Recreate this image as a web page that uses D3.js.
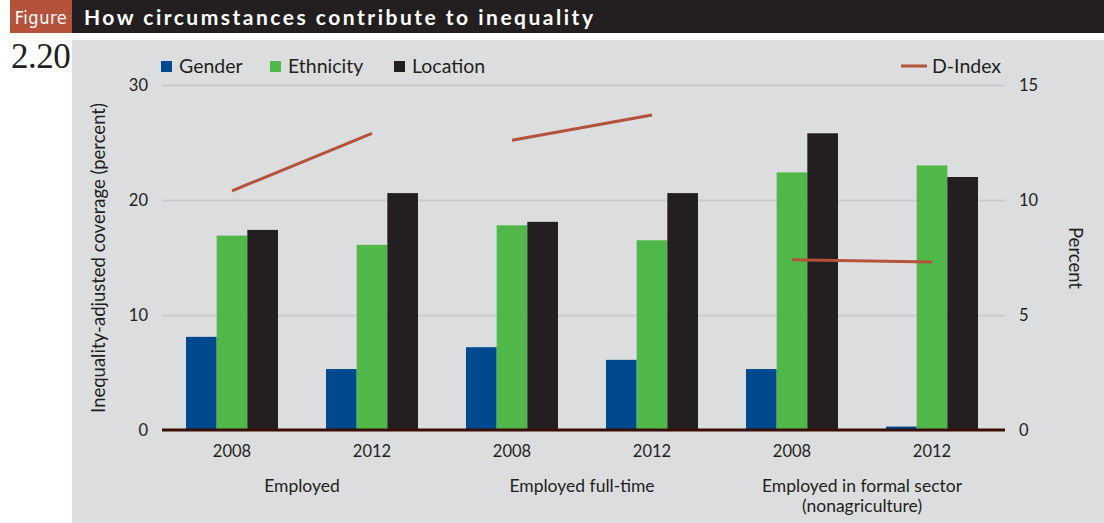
<!DOCTYPE html>
<html>
<head>
<meta charset="utf-8">
<script src="https://cdn.jsdelivr.net/npm/d3@7/dist/d3.min.js"></script>
<style>
  html, body { margin: 0; padding: 0; background: #ffffff; }
  svg { display: block; }
  text { font-family: "Lato", "Noto Sans", sans-serif; fill: #231f20; }
</style>
</head>
<body>
<svg id="chart" width="1104" height="523"></svg>
<script>
// Groups along the x axis: year within an employment category
const years = ["2008", "2012", "2008", "2012", "2008", "2012"];
const categories = ["Employed", "Employed full-time", "Employed in formal sector|(nonagriculture)"];
const categoryOfGroup = [0, 0, 1, 1, 2, 2];

// Inequality-adjusted coverage (percent), left axis
const seriesNames = ["Gender", "Ethnicity", "Location"];
const genderValues    = [8.1, 5.3, 7.2, 6.1, 5.3, 0.3];
const ethnicityValues = [16.9, 16.1, 17.8, 16.5, 22.4, 23.0];
const locationValues  = [17.4, 20.6, 18.1, 20.6, 25.8, 22.0];

// D-Index (percent), right axis, one segment per category
const dIndex = [10.4, 12.9, 12.6, 13.7, 7.4, 7.3];

const leftTicks = [0, 10, 20, 30];
const rightTicks = [0, 5, 10, 15];

const colors = { Gender: "#00498f", Ethnicity: "#50b848", Location: "#231f20", D: "#b5523b" };

const svg = d3.select("#chart");

// Header band
svg.append("rect").attr("x", 72).attr("y", 0).attr("width", 1032).attr("height", 33).attr("fill", "#231f20");
svg.append("rect").attr("x", 10).attr("y", 0).attr("width", 62).attr("height", 33).attr("fill", "#b5523b");
svg.append("text").attr("x", 41).attr("y", 24).attr("text-anchor", "middle")
  .style("font-family", "'DejaVu Sans Condensed', 'Liberation Sans Narrow', sans-serif")
  .style("font-stretch", "condensed")
  .style("font-size", "18px").style("fill", "#ffffff").style("letter-spacing", "0.5px")
  .text("Figure");
svg.append("text").attr("x", 84).attr("y", 25)
  .style("font-size", "21px").style("font-weight", "bold").style("fill", "#ffffff")
  .style("letter-spacing", "2.5px")
  .text("How circumstances contribute to inequality");
svg.append("text").attr("x", 11).attr("y", 68)
  .style("font-family", "'Liberation Serif', 'DejaVu Serif', serif")
  .style("font-size", "35px").style("letter-spacing", "-0.5px").style("fill", "#231f20")
  .text("2.20");

// Chart panel
svg.append("rect").attr("x", 72).attr("y", 40).attr("width", 1032).attr("height", 483).attr("fill", "#dcdddf");

const plotLeft = 162, plotRight = 1005, plotTop = 85, plotBottom = 430;

const y = d3.scaleLinear().domain([0, 30]).range([plotBottom, plotTop]);
const y2 = d3.scaleLinear().domain([0, 15]).range([plotBottom, plotTop]);

const x0 = d3.scaleBand().domain(d3.range(years.length)).range([plotLeft, 1002])
  .paddingInner(0.343).paddingOuter(0.1715);
const x1 = d3.scaleBand().domain(seriesNames).range([0, x0.bandwidth()]);

// Gridlines
const grid = svg.append("g").attr("transform", `translate(${plotLeft},0)`)
  .call(d3.axisLeft(y).tickValues(leftTicks.filter(d => d > 0)).tickSize(-(plotRight - plotLeft)).tickFormat(""));
grid.select(".domain").remove();
grid.selectAll("line").attr("stroke", "#cbcccf").attr("stroke-width", 2);

// Left axis labels
const ly = svg.append("g").attr("transform", `translate(${plotLeft},0)`)
  .call(d3.axisLeft(y).tickValues(leftTicks).tickSize(0).tickPadding(14).tickFormat(d3.format("d")));
ly.select(".domain").remove();
ly.selectAll("text").style("font-size", "16.5px").style("font-family", "Lato, sans-serif").attr("fill", "#231f20");

// Right axis labels
const ry = svg.append("g").attr("transform", `translate(${plotRight},0)`)
  .call(d3.axisRight(y2).tickValues(rightTicks).tickSize(0).tickPadding(14).tickFormat(d3.format("d")));
ry.select(".domain").remove();
ry.selectAll("text").style("font-size", "16.5px").style("font-family", "Lato, sans-serif").attr("fill", "#231f20");

// Bars
const seriesData = { Gender: genderValues, Ethnicity: ethnicityValues, Location: locationValues };
seriesNames.forEach(name => {
  svg.append("g").selectAll("rect").data(seriesData[name]).join("rect")
    .attr("x", (d, i) => x0(i) + x1(name))
    .attr("y", d => y(d))
    .attr("width", x1.bandwidth())
    .attr("height", d => y(0) - y(d))
    .attr("fill", colors[name]);
});

// Baseline
svg.append("line").attr("x1", plotLeft).attr("x2", plotRight).attr("y1", y(0)).attr("y2", y(0))
  .attr("stroke", "#3a0e02").attr("stroke-width", 3);

// D-Index segments
const dLine = d3.line().x(d => x0(d.i) + x0.bandwidth() / 2).y(d => y2(d.v));
categories.forEach((c, ci) => {
  const pts = dIndex.map((v, i) => ({ v, i })).filter(d => categoryOfGroup[d.i] === ci);
  svg.append("path").datum(pts).attr("d", dLine)
    .attr("fill", "none").attr("stroke", colors.D).attr("stroke-width", 3);
});

// Year labels
svg.append("g").selectAll("text").data(years).join("text")
  .attr("x", (d, i) => x0(i) + x0.bandwidth() / 2)
  .attr("y", 457).attr("text-anchor", "middle")
  .style("font-size", "16.5px").text(d => d);

// Category labels
categories.forEach((c, ci) => {
  const idx = d3.range(years.length).filter(i => categoryOfGroup[i] === ci);
  const cx = d3.mean(idx, i => x0(i) + x0.bandwidth() / 2);
  const t = svg.append("text").attr("x", cx).attr("y", 492).attr("text-anchor", "middle").style("font-size", "17.5px");
  c.split("|").forEach((part, k) => {
    t.append("tspan").attr("x", cx).attr("dy", k === 0 ? 0 : 20).text(part);
  });
});

// Axis titles
svg.append("text").attr("transform", `translate(105,258) rotate(-90)`).attr("text-anchor", "middle")
  .style("font-size", "18.5px").text("Inequality-adjusted coverage (percent)");
svg.append("text").attr("transform", `translate(1069,258) rotate(90)`).attr("text-anchor", "middle")
  .style("font-size", "18.5px").text("Percent");

// Legend
const legend = svg.append("g");
const legendX = [161, 270, 394];
seriesNames.forEach((name, k) => {
  legend.append("rect").attr("x", legendX[k]).attr("y", 61).attr("width", 11).attr("height", 11).attr("fill", colors[name]);
  legend.append("text").attr("x", legendX[k] + 18).attr("y", 73).style("font-size", "19.5px").text(name);
});
legend.append("line").attr("x1", 901).attr("x2", 927).attr("y1", 66).attr("y2", 66)
  .attr("stroke", colors.D).attr("stroke-width", 3);
legend.append("text").attr("x", 932).attr("y", 73).style("font-size", "19.5px").text("D-Index");
</script>
</body>
</html>
